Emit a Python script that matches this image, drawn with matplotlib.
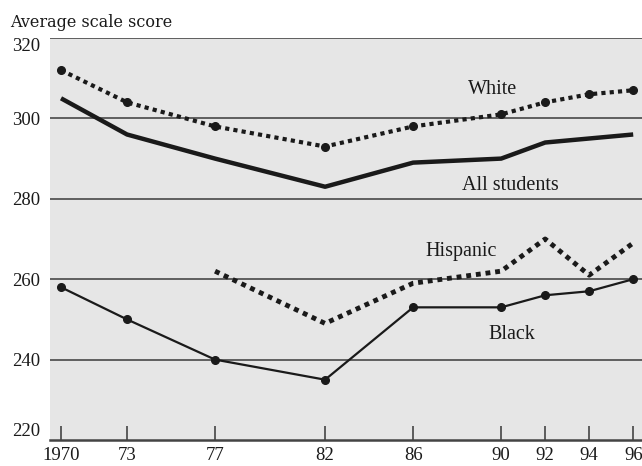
import numpy as np
import matplotlib.pyplot as plt

# NAEP science trends, average scale score
years = [1970, 1973, 1977, 1982, 1986, 1990, 1992, 1994, 1996]
white = [312, 304, 298, 293, 298, 301, 304, 306, 307]
all_students = [305, 296, 290, 283, 289, 290, 294, 295, 296]
black = [258, 250, 240, 235, 253, 253, 256, 257, 260]
hisp_years = [1977, 1982, 1986, 1990, 1992, 1994, 1996]
hispanic = [262, 249, 259, 262, 270, 261, 269]
tick_labels = ['1970', '73', '77', '82', '86', '90', '92', '94', '96']
y_ticks = [220, 240, 260, 280, 300, 320]

plt.rcParams['font.family'] = ['Liberation Serif', 'DejaVu Serif']
ink = '#1a1a1a'

fig = plt.figure(figsize=(6.42, 4.66), dpi=100)
ax = fig.add_axes([50/642, 1-440/466, 1-50/642, (440-38)/466])
ax.set_facecolor('#e6e6e6')

# gridlines
for v in y_ticks[1:]:
    ax.axhline(v, color='#3a3a3a', lw=1.1, zorder=1)

ax.plot(years, white, color=ink, lw=3, linestyle=(0, (1, 1)),
        marker='o', markersize=5.5, zorder=3)
ax.plot(years, all_students, color=ink, lw=3.2, solid_capstyle='butt', zorder=3)
ax.plot(hisp_years, hispanic, color=ink, lw=3.5, linestyle=(0, (1, 1)), zorder=3)
ax.plot(years, black, color=ink, lw=1.6, marker='o', markersize=5.5, zorder=3)

lab = dict(fontsize=14.5, ha='center', va='center', color=ink)
ax.text(1989.6, 307.2, 'White', **lab)
ax.text(1990.4, 283.4, 'All students', **lab)
ax.text(1988.2, 267.0, 'Hispanic', **lab)
ax.text(1990.5, 246.2, 'Black', **lab)

ax.set_xlim(1969.5, 1996.4)
ax.set_ylim(220, 320)
ax.set_xticks(years)
ax.set_xticklabels(tick_labels, fontsize=13.5, color=ink)
ax.set_yticks(y_ticks)
ax.set_yticklabels([str(v) for v in y_ticks], fontsize=13.5, color=ink)
ax.tick_params(axis='x', direction='in', length=10, width=1.2, color='#444444', pad=5)
ax.tick_params(axis='y', length=0, pad=7)
labs = ax.get_yticklabels()
labs[0].set_va('bottom')
labs[-1].set_va('top')

for s in ['left', 'right', 'top']:
    ax.spines[s].set_visible(False)
ax.spines['bottom'].set_color('#444444')
ax.spines['bottom'].set_linewidth(1.8)

fig.text(10/642, 1-27/466, 'Average scale score', fontsize=11.5, ha='left',
         va='baseline', color=ink, family='DejaVu Serif')

fig.savefig('out.png', dpi=100, facecolor='white')
